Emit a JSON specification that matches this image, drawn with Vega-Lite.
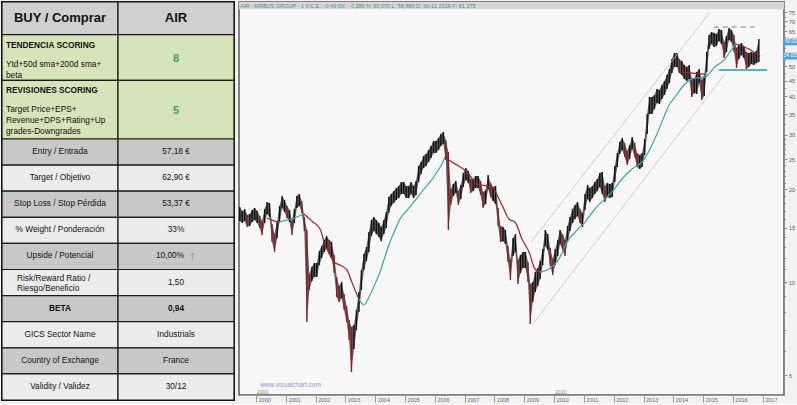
{
  "$schema": "https://vega.github.io/schema/vega-lite/v6.json",
  "background": "#f2f2f2",
  "padding": 0,
  "spacing": 2,
  "config": {"font": "Liberation Sans", "view": {"stroke": null}},
  "resolve": {"scale": {"x": "independent", "y": "independent", "color": "independent"}},
  "datasets": {
    "tbl": [
      {"r0":0,"r1":5,"col":"k","sec":"head","kind":"h","txt":"BUY / Comprar"},
      {"r0":0,"r1":5,"col":"v","sec":"head","kind":"h","txt":"AIR"},
      {"r0":5,"r1":12,"col":"k","sec":"score","kind":"t","txt":"TENDENCIA SCORING","sub":"Ytd+50d sma+200d sma+\nbeta"},
      {"r0":5,"r1":12,"col":"v","sec":"score","kind":"s1","txt":"8"},
      {"r0":12,"r1":21,"col":"k","sec":"score","kind":"t","txt":"REVISIONES SCORING","sub":"Target Price+EPS+\nRevenue+DPS+Rating+Up\ngrades-Downgrades"},
      {"r0":12,"r1":21,"col":"v","sec":"score","kind":"s2","txt":"5"},
      {"r0":21,"r1":25,"col":"k","sec":"det","kind":"n","txt":"Entry / Entrada"},
      {"r0":21,"r1":25,"col":"v","sec":"det","kind":"n","txt":"57,18 €"},
      {"r0":25,"r1":29,"col":"k","sec":"det","kind":"n","txt":"Target / Objetivo"},
      {"r0":25,"r1":29,"col":"v","sec":"det","kind":"n","txt":"62,90 €"},
      {"r0":29,"r1":33,"col":"k","sec":"det","kind":"n","txt":"Stop Loss / Stop Pérdida"},
      {"r0":29,"r1":33,"col":"v","sec":"det","kind":"n","txt":"53,37 €"},
      {"r0":33,"r1":37,"col":"k","sec":"det","kind":"n","txt":"% Weight / Ponderación"},
      {"r0":33,"r1":37,"col":"v","sec":"det","kind":"n","txt":"33%"},
      {"r0":37,"r1":41,"col":"k","sec":"det","kind":"n","txt":"Upside / Potencial"},
      {"r0":37,"r1":41,"col":"v","sec":"det","kind":"u","txt":"10,00%"},
      {"r0":41,"r1":45,"col":"k","sec":"det","kind":"r","txt":"Risk/Reward  Ratio /\nRiesgo/Beneficio"},
      {"r0":41,"r1":45,"col":"v","sec":"det","kind":"n","txt":"1,50"},
      {"r0":45,"r1":49,"col":"k","sec":"det","kind":"b","txt":"BETA"},
      {"r0":45,"r1":49,"col":"v","sec":"det","kind":"b","txt":"0,94"},
      {"r0":49,"r1":53,"col":"k","sec":"det","kind":"n","txt":"GICS Sector Name"},
      {"r0":49,"r1":53,"col":"v","sec":"det","kind":"n","txt":"Industrials"},
      {"r0":53,"r1":57,"col":"k","sec":"det","kind":"n","txt":"Country of Exchange"},
      {"r0":53,"r1":57,"col":"v","sec":"det","kind":"n","txt":"France"},
      {"r0":57,"r1":61,"col":"k","sec":"det","kind":"n","txt":"Validity / Validez"},
      {"r0":57,"r1":61,"col":"v","sec":"det","kind":"n","txt":"30/12"}
    ],
    "px": [
      {"d":"1999-06-15","h":17.51,"l":15.77},{"d":"1999-07-15","h":17.00,"l":15.54},{"d":"1999-08-15","h":17.25,"l":15.77},{"d":"1999-09-15","h":16.50,"l":15.09},{"d":"1999-10-15","h":16.62,"l":15.20},{"d":"1999-11-15","h":17.12,"l":15.66},{"d":"1999-12-15","h":17.38,"l":15.89},
      {"d":"2000-01-15","h":17.00,"l":15.54},{"d":"2000-02-15","h":16.37,"l":14.97},{"d":"2000-03-15","h":15.77,"l":14.21},{"d":"2000-04-15","h":17.25,"l":15.54},{"d":"2000-05-15","h":18.18,"l":16.62},{"d":"2000-06-15","h":18.04,"l":16.25},{"d":"2000-07-15","h":15.43,"l":13.49},{"d":"2000-08-15","h":14.31,"l":12.52},{"d":"2000-09-15","h":15.66,"l":13.89},{"d":"2000-10-15","h":17.65,"l":15.66},{"d":"2000-11-15","h":19.01,"l":17.38},{"d":"2000-12-15","h":18.45,"l":16.87},
      {"d":"2001-01-15","h":17.65,"l":16.13},{"d":"2001-02-15","h":17.12,"l":15.66},{"d":"2001-03-15","h":15.77,"l":14.21},{"d":"2001-04-15","h":17.25,"l":15.54},{"d":"2001-05-15","h":19.01,"l":17.38},{"d":"2001-06-15","h":19.30,"l":17.65},{"d":"2001-07-15","h":18.31,"l":16.74},{"d":"2001-08-15","h":16.25,"l":14.64},{"d":"2001-09-15","h":14.75,"l":7.42},{"d":"2001-10-15","h":10.62,"l":9.43},{"d":"2001-11-15","h":11.19,"l":10.08},{"d":"2001-12-15","h":11.53,"l":10.39},
      {"d":"2002-01-15","h":11.53,"l":10.39},{"d":"2002-02-15","h":12.61,"l":11.36},{"d":"2002-03-15","h":13.09,"l":11.97},{"d":"2002-04-15","h":13.69,"l":12.52},{"d":"2002-05-15","h":14.10,"l":12.90},{"d":"2002-06-15","h":13.69,"l":12.33},{"d":"2002-07-15","h":13.49,"l":11.97},{"d":"2002-08-15","h":12.24,"l":10.70},{"d":"2002-09-15","h":10.39,"l":8.95},{"d":"2002-10-15","h":9.72,"l":8.62},{"d":"2002-11-15","h":10.01,"l":8.88},{"d":"2002-12-15","h":9.15,"l":8.12},
      {"d":"2003-01-15","h":8.37,"l":7.42},{"d":"2003-02-15","h":7.54,"l":6.49},{"d":"2003-03-15","h":7.15,"l":5.11},{"d":"2003-04-15","h":7.26,"l":6.07},{"d":"2003-05-15","h":8.12,"l":6.99},{"d":"2003-06-15","h":9.29,"l":8.00},{"d":"2003-07-15","h":10.94,"l":9.43},{"d":"2003-08-15","h":12.33,"l":10.94},{"d":"2003-09-15","h":13.00,"l":11.70},{"d":"2003-10-15","h":14.53,"l":12.52},{"d":"2003-11-15","h":15.89,"l":14.10},{"d":"2003-12-15","h":16.25,"l":14.64},
      {"d":"2004-01-15","h":15.89,"l":14.31},{"d":"2004-02-15","h":15.54,"l":14.00},{"d":"2004-03-15","h":15.09,"l":13.58},{"d":"2004-04-15","h":15.89,"l":14.31},{"d":"2004-05-15","h":16.87,"l":14.97},{"d":"2004-06-15","h":18.87,"l":16.74},{"d":"2004-07-15","h":19.30,"l":17.65},{"d":"2004-08-15","h":19.74,"l":18.04},{"d":"2004-09-15","h":20.19,"l":18.45},{"d":"2004-10-15","h":20.49,"l":18.73},{"d":"2004-11-15","h":21.11,"l":19.30},{"d":"2004-12-15","h":21.11,"l":19.30},
      {"d":"2005-01-15","h":20.49,"l":18.73},{"d":"2005-02-15","h":20.49,"l":18.73},{"d":"2005-03-15","h":21.11,"l":19.30},{"d":"2005-04-15","h":20.49,"l":18.73},{"d":"2005-05-15","h":21.27,"l":19.16},{"d":"2005-06-15","h":23.79,"l":21.11},{"d":"2005-07-15","h":24.51,"l":22.41},{"d":"2005-08-15","h":25.63,"l":23.44},{"d":"2005-09-15","h":26.02,"l":23.79},{"d":"2005-10-15","h":26.80,"l":24.51},{"d":"2005-11-15","h":27.61,"l":25.25},{"d":"2005-12-15","h":28.66,"l":26.21},
      {"d":"2006-01-15","h":28.66,"l":26.21},{"d":"2006-02-15","h":29.32,"l":26.80},{"d":"2006-03-15","h":30.21,"l":27.61},{"d":"2006-04-15","h":30.66,"l":28.03},{"d":"2006-05-15","h":28.88,"l":24.88},{"d":"2006-06-15","h":26.41,"l":14.75},{"d":"2006-07-15","h":20.03,"l":17.78},{"d":"2006-08-15","h":20.80,"l":19.01},{"d":"2006-09-15","h":21.27,"l":19.44},{"d":"2006-10-15","h":19.74,"l":17.78},{"d":"2006-11-15","h":20.64,"l":18.59},{"d":"2006-12-15","h":22.58,"l":20.34},
      {"d":"2007-01-15","h":23.44,"l":21.43},{"d":"2007-02-15","h":22.91,"l":20.95},{"d":"2007-03-15","h":21.59,"l":19.44},{"d":"2007-04-15","h":21.59,"l":19.74},{"d":"2007-05-15","h":22.08,"l":20.19},{"d":"2007-06-15","h":22.08,"l":20.19},{"d":"2007-07-15","h":21.27,"l":19.16},{"d":"2007-08-15","h":19.59,"l":17.38},{"d":"2007-09-15","h":19.88,"l":17.91},{"d":"2007-10-15","h":22.25,"l":20.03},{"d":"2007-11-15","h":20.95,"l":18.87},{"d":"2007-12-15","h":20.34,"l":18.31},
      {"d":"2008-01-15","h":20.49,"l":17.91},{"d":"2008-02-15","h":17.38,"l":15.20},{"d":"2008-03-15","h":15.20,"l":13.49},{"d":"2008-04-15","h":15.09,"l":13.58},{"d":"2008-05-15","h":14.75,"l":13.29},{"d":"2008-06-15","h":13.09,"l":11.62},{"d":"2008-07-15","h":11.79,"l":10.15},{"d":"2008-08-15","h":13.89,"l":12.15},{"d":"2008-09-15","h":14.31,"l":12.52},{"d":"2008-10-15","h":11.79,"l":9.86},{"d":"2008-11-15","h":12.24,"l":10.70},{"d":"2008-12-15","h":12.52,"l":11.11},
      {"d":"2009-01-15","h":12.52,"l":11.11},{"d":"2009-02-15","h":11.62,"l":10.01},{"d":"2009-03-15","h":9.86,"l":7.31},{"d":"2009-04-15","h":10.01,"l":8.62},{"d":"2009-05-15","h":10.78,"l":9.29},{"d":"2009-06-15","h":11.11,"l":9.72},{"d":"2009-07-15","h":11.70,"l":10.23},{"d":"2009-08-15","h":12.80,"l":11.36},{"d":"2009-09-15","h":14.75,"l":13.09},{"d":"2009-10-15","h":14.31,"l":12.71},{"d":"2009-11-15","h":12.90,"l":11.28},{"d":"2009-12-15","h":11.88,"l":10.54},
      {"d":"2010-01-15","h":12.80,"l":11.36},{"d":"2010-02-15","h":13.69,"l":12.15},{"d":"2010-03-15","h":14.75,"l":13.29},{"d":"2010-04-15","h":14.31,"l":12.71},{"d":"2010-05-15","h":13.69,"l":12.15},{"d":"2010-06-15","h":15.20,"l":13.49},{"d":"2010-07-15","h":16.25,"l":14.64},{"d":"2010-08-15","h":17.25,"l":15.54},{"d":"2010-09-15","h":17.78,"l":16.01},{"d":"2010-10-15","h":18.18,"l":16.37},{"d":"2010-11-15","h":17.25,"l":15.54},{"d":"2010-12-15","h":16.74,"l":15.09},
      {"d":"2011-01-15","h":19.30,"l":17.12},{"d":"2011-02-15","h":20.64,"l":18.59},{"d":"2011-03-15","h":20.19,"l":18.18},{"d":"2011-04-15","h":20.49,"l":18.73},{"d":"2011-05-15","h":21.11,"l":19.30},{"d":"2011-06-15","h":21.59,"l":19.74},{"d":"2011-07-15","h":22.58,"l":20.34},{"d":"2011-08-15","h":22.75,"l":19.30},{"d":"2011-09-15","h":20.49,"l":18.18},{"d":"2011-10-15","h":20.95,"l":18.87},{"d":"2011-11-15","h":20.80,"l":18.73},{"d":"2011-12-15","h":20.95,"l":18.87},
      {"d":"2012-01-15","h":23.79,"l":21.11},{"d":"2012-02-15","h":26.21,"l":23.61},{"d":"2012-03-15","h":28.45,"l":26.02},{"d":"2012-04-15","h":29.32,"l":26.80},{"d":"2012-05-15","h":28.24,"l":25.44},{"d":"2012-06-15","h":26.60,"l":23.97},{"d":"2012-07-15","h":27.82,"l":25.06},{"d":"2012-08-15","h":29.54,"l":27.00},{"d":"2012-09-15","h":28.24,"l":25.44},{"d":"2012-10-15","h":26.21,"l":23.61},{"d":"2012-11-15","h":25.83,"l":23.26},{"d":"2012-12-15","h":26.21,"l":23.61},
      {"d":"2013-01-15","h":29.10,"l":25.83},{"d":"2013-02-15","h":35.06,"l":30.21},{"d":"2013-03-15","h":39.81,"l":35.06},{"d":"2013-04-15","h":39.81,"l":35.06},{"d":"2013-05-15","h":40.41,"l":36.39},{"d":"2013-06-15","h":42.25,"l":38.06},{"d":"2013-07-15","h":41.93,"l":37.78},{"d":"2013-08-15","h":43.54,"l":39.21},{"d":"2013-09-15","h":44.85,"l":40.41},{"d":"2013-10-15","h":46.91,"l":42.25},{"d":"2013-11-15","h":49.05,"l":44.19},{"d":"2013-12-15","h":52.85,"l":47.61},
      {"d":"2014-01-15","h":55.27,"l":49.80},{"d":"2014-02-15","h":55.27,"l":49.80},{"d":"2014-03-15","h":52.85,"l":47.61},{"d":"2014-04-15","h":52.06,"l":46.91},{"d":"2014-05-15","h":50.55,"l":45.52},{"d":"2014-06-15","h":49.80,"l":44.85},{"d":"2014-07-15","h":50.55,"l":45.52},{"d":"2014-08-15","h":45.87,"l":39.81},{"d":"2014-09-15","h":45.52,"l":41.01},{"d":"2014-10-15","h":47.97,"l":40.71},{"d":"2014-11-15","h":49.05,"l":44.19},{"d":"2014-12-15","h":45.18,"l":38.92},
      {"d":"2015-01-15","h":46.56,"l":40.11},{"d":"2015-02-15","h":55.69,"l":47.97},{"d":"2015-03-15","h":63.22,"l":56.94},{"d":"2015-04-15","h":64.65,"l":59.11},{"d":"2015-05-15","h":64.17,"l":57.80},{"d":"2015-06-15","h":63.69,"l":58.24},{"d":"2015-07-15","h":66.10,"l":60.44},{"d":"2015-08-15","h":65.60,"l":59.11},{"d":"2015-09-15","h":60.00,"l":53.25},{"d":"2015-10-15","h":62.75,"l":55.69},{"d":"2015-11-15","h":66.60,"l":60.89},{"d":"2015-12-15","h":65.60,"l":60.00},
      {"d":"2016-01-15","h":63.22,"l":55.69},{"d":"2016-02-15","h":57.37,"l":49.43},{"d":"2016-03-15","h":58.67,"l":52.85},{"d":"2016-04-15","h":59.55,"l":54.46},{"d":"2016-05-15","h":58.24,"l":53.25},{"d":"2016-06-15","h":55.69,"l":49.05},{"d":"2016-07-15","h":55.27,"l":49.80},{"d":"2016-08-15","h":55.69,"l":50.93},{"d":"2016-09-15","h":55.27,"l":50.55},{"d":"2016-10-15","h":56.09,"l":51.30},{"d":"2016-11-15","h":61.35,"l":51.69}
    ],
    "ma": [
      {"d":"2000-05-13","v":16.13,"seg":"s1","tr":"bear"},{"d":"2000-07-14","v":15.89,"seg":"s1","tr":"bear"},{"d":"2000-10-08","v":15.66,"seg":"s1","tr":"bear"},
      {"d":"2000-10-08","v":15.66,"seg":"s2","tr":"bull"},{"d":"2001-01-15","v":15.89,"seg":"s2","tr":"bull"},{"d":"2001-04-10","v":16.13,"seg":"s2","tr":"bull"},{"d":"2001-07-15","v":16.50,"seg":"s2","tr":"bull"},{"d":"2001-08-10","v":16.62,"seg":"s2","tr":"bull"},
      {"d":"2001-08-10","v":16.62,"seg":"s3","tr":"bear"},{"d":"2001-11-15","v":15.77,"seg":"s3","tr":"bear"},{"d":"2002-02-24","v":14.86,"seg":"s3","tr":"bear"},{"d":"2002-04-25","v":13.19,"seg":"s3","tr":"bear"},{"d":"2002-06-25","v":12.24,"seg":"s3","tr":"bear"},{"d":"2002-08-13","v":11.62,"seg":"s3","tr":"bear"},{"d":"2002-10-25","v":11.36,"seg":"s3","tr":"bear"},{"d":"2003-01-20","v":10.94,"seg":"s3","tr":"bear"},{"d":"2003-03-20","v":10.01,"seg":"s3","tr":"bear"},{"d":"2003-05-08","v":9.29,"seg":"s3","tr":"bear"},{"d":"2003-06-15","v":8.82,"seg":"s3","tr":"bear"},
      {"d":"2003-06-15","v":8.82,"seg":"s4","tr":"bull"},{"d":"2003-08-15","v":8.43,"seg":"s4","tr":"bull"},{"d":"2003-10-28","v":9.08,"seg":"s4","tr":"bull"},{"d":"2003-12-28","v":9.86,"seg":"s4","tr":"bull"},{"d":"2004-02-28","v":10.78,"seg":"s4","tr":"bull"},{"d":"2004-04-28","v":12.06,"seg":"s4","tr":"bull"},{"d":"2004-06-29","v":13.49,"seg":"s4","tr":"bull"},{"d":"2004-08-30","v":14.75,"seg":"s4","tr":"bull"},{"d":"2004-10-30","v":16.01,"seg":"s4","tr":"bull"},{"d":"2005-01-25","v":17.12,"seg":"s4","tr":"bull"},{"d":"2005-04-18","v":18.18,"seg":"s4","tr":"bull"},{"d":"2005-08-20","v":20.03,"seg":"s4","tr":"bull"},{"d":"2005-11-02","v":21.11,"seg":"s4","tr":"bull"},{"d":"2006-01-28","v":22.75,"seg":"s4","tr":"bull"},{"d":"2006-03-28","v":24.15,"seg":"s4","tr":"bull"},{"d":"2006-05-04","v":25.44,"seg":"s4","tr":"bull"},
      {"d":"2006-05-04","v":25.44,"seg":"s5","tr":"bear"},{"d":"2006-07-28","v":24.51,"seg":"s5","tr":"bear"},{"d":"2006-09-28","v":23.97,"seg":"s5","tr":"bear"},{"d":"2007-01-30","v":22.75,"seg":"s5","tr":"bear"},{"d":"2007-06-01","v":20.80,"seg":"s5","tr":"bear"},{"d":"2007-08-01","v":20.64,"seg":"s5","tr":"bear"},{"d":"2007-12-01","v":20.34,"seg":"s5","tr":"bear"},{"d":"2008-02-26","v":18.59,"seg":"s5","tr":"bear"},{"d":"2008-04-26","v":17.25,"seg":"s5","tr":"bear"},{"d":"2008-06-27","v":16.01,"seg":"s5","tr":"bear"},{"d":"2008-09-09","v":15.66,"seg":"s5","tr":"bear"},{"d":"2008-12-03","v":13.79,"seg":"s5","tr":"bear"},{"d":"2009-02-28","v":12.52,"seg":"s5","tr":"bear"},{"d":"2009-05-11","v":11.03,"seg":"s5","tr":"bear"},{"d":"2009-07-12","v":10.78,"seg":"s5","tr":"bear"},
      {"d":"2009-07-12","v":10.78,"seg":"s6","tr":"bull"},{"d":"2009-10-30","v":11.03,"seg":"s6","tr":"bull"},{"d":"2010-03-02","v":11.88,"seg":"s6","tr":"bull"},{"d":"2010-06-07","v":13.49,"seg":"s6","tr":"bull"},{"d":"2010-09-15","v":14.53,"seg":"s6","tr":"bull"},{"d":"2011-01-15","v":15.66,"seg":"s6","tr":"bull"},{"d":"2011-05-15","v":17.25,"seg":"s6","tr":"bull"},{"d":"2011-09-15","v":18.59,"seg":"s6","tr":"bull"},{"d":"2011-12-11","v":19.59,"seg":"s6","tr":"bull"},{"d":"2012-04-12","v":21.59,"seg":"s6","tr":"bull"},{"d":"2012-08-13","v":23.26,"seg":"s6","tr":"bull"},{"d":"2012-12-13","v":24.51,"seg":"s6","tr":"bull"},{"d":"2013-04-15","v":27.82,"seg":"s6","tr":"bull"},{"d":"2013-06-15","v":30.21,"seg":"s6","tr":"bull"},{"d":"2013-08-15","v":33.04,"seg":"s6","tr":"bull"},{"d":"2013-11-10","v":37.50,"seg":"s6","tr":"bull"},{"d":"2014-01-22","v":39.81,"seg":"s6","tr":"bull"},{"d":"2014-05-24","v":43.86,"seg":"s6","tr":"bull"},{"d":"2014-09-24","v":45.87,"seg":"s6","tr":"bull"},{"d":"2015-01-25","v":46.21,"seg":"s6","tr":"bull"},{"d":"2015-05-25","v":49.80,"seg":"s6","tr":"bull"},{"d":"2015-09-26","v":52.85,"seg":"s6","tr":"bull"},{"d":"2015-12-21","v":56.94,"seg":"s6","tr":"bull"},{"d":"2016-02-09","v":59.11,"seg":"s6","tr":"bull"},
      {"d":"2014-04-16","v":47.97,"seg":"s7","tr":"bear"},{"d":"2014-08-17","v":47.61,"seg":"s7","tr":"bear"},{"d":"2015-01-25","v":47.26,"seg":"s7","tr":"bear"},
      {"d":"2016-02-09","v":59.11,"seg":"s8","tr":"bear"},{"d":"2016-04-21","v":58.24,"seg":"s8","tr":"bear"},{"d":"2016-07-16","v":56.94,"seg":"s8","tr":"bear"},{"d":"2016-10-01","v":55.30,"seg":"s8","tr":"bear"},{"d":"2016-11-30","v":54.04,"seg":"s8","tr":"bear"}
    ],
    "chan": [
      {"d":"2009-03-24","v":13.49,"side":"upper"},{"d":"2015-03-27","v":75.0,"side":"upper"},
      {"d":"2009-04-05","v":7.26,"side":"lower"},{"d":"2015-09-26","v":47.26,"side":"lower"}
    ],
    "lvl": [
      {"d":"2015-07-15","v":48.69,"k":"sup"},{"d":"2017-02-23","v":48.69,"k":"sup"},
      {"d":"2015-05-13","v":67.10,"k":"res"},{"d":"2016-10-22","v":67.10,"k":"res"}
    ],
    "tags": [
      {"v":60.02,"t":"60.02"},{"v":54.035,"t":"54.035"}
    ],
    "dec": [
      {"d":"2000-01-01","t":"2000"},{"d":"2010-01-01","t":"2010"}
    ]
  },
  "hconcat": [
    {
      "width": 232,
      "height": 398,
      "view": {"stroke": "#151515", "strokeWidth": 2, "fill": "#ffffff"},
      "data": {"name": "tbl"},
      "layer": [
        {
          "mark": {"type": "rect", "stroke": "#1a1a1a", "strokeWidth": 1.2},
          "encoding": {
            "x": {"field": "col", "type": "nominal", "title": null, "axis": null, "scale": {"type": "band", "domain": ["k", "v"], "paddingInner": 0, "paddingOuter": 0}},
            "y": {"field": "r0", "type": "quantitative", "title": null, "axis": null, "scale": {"domain": [0, 61], "reverse": true, "nice": false, "zero": false}},
            "y2": {"field": "r1"},
            "fill": {"condition": [{"test": "datum.sec === 'head'", "value": "#d0d0d0"}, {"test": "datum.sec === 'score'", "value": "#d7e3b8"}, {"test": "((datum.r0 - 21) / 4) % 2 === 0", "value": "#c8c8c8"}], "value": "#ececec"}
          }
        },
        {
          "transform": [{"filter": "datum.kind === 'h'"}],
          "mark": {"type": "text", "fontSize": 13, "fontWeight": "bold", "baseline": "middle", "dy": 16, "color": "#111"},
          "encoding": {
            "x": {"field": "col", "type": "nominal", "axis": null, "scale": {"type": "band", "domain": ["k", "v"], "paddingInner": 0, "paddingOuter": 0}},
            "y": {"field": "r0", "type": "quantitative"},
            "text": {"field": "txt"}
          }
        },
        {
          "transform": [{"filter": "datum.kind === 'n'"}],
          "mark": {"type": "text", "fontSize": 8.3, "baseline": "middle", "dy": 13, "color": "#111"},
          "encoding": {
            "x": {"field": "col", "type": "nominal", "axis": null, "scale": {"type": "band", "domain": ["k", "v"], "paddingInner": 0, "paddingOuter": 0}},
            "y": {"field": "r0", "type": "quantitative"},
            "text": {"field": "txt"}
          }
        },
        {
          "transform": [{"filter": "datum.kind === 'u'"}],
          "mark": {"type": "text", "fontSize": 8.3, "baseline": "middle", "dy": 13, "dx": -6, "color": "#111"},
          "encoding": {
            "x": {"field": "col", "type": "nominal", "axis": null, "scale": {"type": "band", "domain": ["k", "v"], "paddingInner": 0, "paddingOuter": 0}},
            "y": {"field": "r0", "type": "quantitative"},
            "text": {"field": "txt"}
          }
        },
        {
          "transform": [{"filter": "datum.kind === 'u'"}],
          "mark": {"type": "text", "fontSize": 12, "fontWeight": "bold", "baseline": "middle", "dy": 12.5, "dx": 16, "color": "#4f9a6a"},
          "encoding": {
            "x": {"field": "col", "type": "nominal", "axis": null, "scale": {"type": "band", "domain": ["k", "v"], "paddingInner": 0, "paddingOuter": 0}},
            "y": {"field": "r0", "type": "quantitative"},
            "text": {"value": "↑"}
          }
        },
        {
          "transform": [{"filter": "datum.kind === 'b'"}],
          "mark": {"type": "text", "fontSize": 8.3, "fontWeight": "bold", "baseline": "middle", "dy": 13, "color": "#111"},
          "encoding": {
            "x": {"field": "col", "type": "nominal", "axis": null, "scale": {"type": "band", "domain": ["k", "v"], "paddingInner": 0, "paddingOuter": 0}},
            "y": {"field": "r0", "type": "quantitative"},
            "text": {"field": "txt"}
          }
        },
        {
          "transform": [{"filter": "datum.kind === 'r'"}],
          "mark": {"type": "text", "fontSize": 8.3, "align": "left", "baseline": "top", "dy": 4.5, "dx": 15, "lineBreak": "\n", "lineHeight": 9.5, "color": "#111"},
          "encoding": {
            "x": {"field": "col", "type": "nominal", "bandPosition": 0, "axis": null, "scale": {"type": "band", "domain": ["k", "v"], "paddingInner": 0, "paddingOuter": 0}},
            "y": {"field": "r0", "type": "quantitative"},
            "text": {"field": "txt"}
          }
        },
        {
          "transform": [{"filter": "datum.kind === 't'"}],
          "mark": {"type": "text", "fontSize": 8.3, "fontWeight": "bold", "align": "left", "baseline": "top", "dy": 6, "dx": 4, "color": "#111"},
          "encoding": {
            "x": {"field": "col", "type": "nominal", "bandPosition": 0, "axis": null, "scale": {"type": "band", "domain": ["k", "v"], "paddingInner": 0, "paddingOuter": 0}},
            "y": {"field": "r0", "type": "quantitative"},
            "text": {"field": "txt"}
          }
        },
        {
          "transform": [{"filter": "datum.kind === 't'"}],
          "mark": {"type": "text", "fontSize": 8.3, "align": "left", "baseline": "top", "dy": 25, "dx": 4, "lineBreak": "\n", "lineHeight": 11, "color": "#111"},
          "encoding": {
            "x": {"field": "col", "type": "nominal", "bandPosition": 0, "axis": null, "scale": {"type": "band", "domain": ["k", "v"], "paddingInner": 0, "paddingOuter": 0}},
            "y": {"field": "r0", "type": "quantitative"},
            "text": {"field": "sub"}
          }
        },
        {
          "transform": [{"filter": "datum.kind === 's1'"}],
          "mark": {"type": "text", "fontSize": 11, "fontWeight": "bold", "baseline": "middle", "dy": 24, "color": "#3f9a5e"},
          "encoding": {
            "x": {"field": "col", "type": "nominal", "axis": null, "scale": {"type": "band", "domain": ["k", "v"], "paddingInner": 0, "paddingOuter": 0}},
            "y": {"field": "r0", "type": "quantitative"},
            "text": {"field": "txt"}
          }
        },
        {
          "transform": [{"filter": "datum.kind === 's2'"}],
          "mark": {"type": "text", "fontSize": 11, "fontWeight": "bold", "baseline": "middle", "dy": 31, "color": "#3f9a5e"},
          "encoding": {
            "x": {"field": "col", "type": "nominal", "axis": null, "scale": {"type": "band", "domain": ["k", "v"], "paddingInner": 0, "paddingOuter": 0}},
            "y": {"field": "r0", "type": "quantitative"},
            "text": {"field": "txt"}
          }
        }
      ]
    },
    {
      "width": 545,
      "height": 393,
      "view": {"fill": "#f7f7f7", "stroke": "#5a5a5a", "strokeWidth": 1.5},
      "layer": [
        {
          "data": {"values": [{"hdr": "AIR - AIRBUS GROUP - 1 V.C.E.: -0,49 Dif.: -0,280 H: 60,070 L: 58,880 D: 30-11-2016 F: 61,175"}]},
          "mark": {"type": "rect", "color": "#d6d6d6"},
          "encoding": {
            "x": {"datum": {"year": 1999, "month": 6, "date": 6}, "type": "temporal",
              "scale": {"domain": [{"year": 1999, "month": 6, "date": 6}, {"year": 2017, "month": 9, "date": 19}], "nice": false},
              "axis": {"tickCount": {"interval": "year", "step": 1}, "format": "%Y", "labelAlign": "left", "labelBaseline": "top", "labelOffset": 2, "labelPadding": -5, "tickSize": 7, "labelFontSize": 5.5, "labelColor": "#666", "tickColor": "#999", "domainColor": "#999", "grid": false, "labelOverlap": false, "labelFlush": false, "title": null}},
            "x2": {"datum": {"year": 2017, "month": 9, "date": 19}},
            "y": {"datum": 80.9, "type": "quantitative",
              "scale": {"type": "log", "domain": [4.307, 80.9], "nice": false},
              "axis": {"orient": "right", "title": null, "values": [5,6,7,8,9,10,11,12,13,14,15,16,17,18,19,20,21,22,23,24,25,26,27,28,29,30,32.5,35,37.5,40,42.5,45,47.5,50,52.5,55,57.5,60,62.5,65,67.5,70,72.5,75], "labelExpr": "(datum.value % 5 === 0 && datum.value !== 55 && datum.value !== 60) ? '' + datum.value : ''", "tickSize": {"condition": {"test": "datum.value % 5 === 0", "value": 3}, "value": 1.5}, "labelFontSize": 5.5, "labelColor": "#555", "tickColor": "#888", "domainColor": "#888", "labelPadding": 1.5, "grid": false, "labelOverlap": false, "labelBound": false}},
            "y2": {"datum": 76.6}
          }
        },
        {
          "data": {"values": [{"hdr": "AIR - AIRBUS GROUP - 1 V.C.E.: -0,49 Dif.: -0,280 H: 60,070 L: 58,880 D: 30-11-2016 F: 61,175"}]},
          "mark": {"type": "text", "align": "left", "baseline": "middle", "dx": 1, "fontSize": 5.5, "color": "#3f8e9a"},
          "encoding": {
            "x": {"datum": {"year": 1999, "month": 6, "date": 6}, "type": "temporal"},
            "y": {"datum": 78.7, "type": "quantitative"},
            "text": {"field": "hdr"}
          }
        },
        {
          "data": {"name": "px"},
          "mark": {"type": "area", "color": "#2a2a2a", "opacity": 0.75},
          "encoding": {
            "x": {"field": "d", "type": "temporal", "title": null},
            "y": {"field": "h", "type": "quantitative", "title": null},
            "y2": {"field": "l"}
          }
        },
        {
          "data": {"name": "px"},
          "transform": [{"window": [{"op": "lag", "field": "h", "as": "ph"}, {"op": "lag", "field": "l", "as": "pl"}], "sort": [{"field": "d", "order": "ascending"}]}],
          "mark": {"type": "rule", "strokeWidth": 1.4},
          "encoding": {
            "x": {"field": "d", "type": "temporal", "title": null},
            "y": {"field": "h", "type": "quantitative", "title": null},
            "y2": {"field": "l"},
            "color": {"condition": {"test": "datum.ph != null && (datum.h + datum.l) < (datum.ph + datum.pl) * 0.97", "value": "#8e1b1b"}, "value": "#111111"}
          }
        },
        {
          "data": {"name": "chan"},
          "mark": {"type": "line", "stroke": "#c4c4c4", "strokeWidth": 0.8},
          "encoding": {
            "x": {"field": "d", "type": "temporal", "title": null},
            "y": {"field": "v", "type": "quantitative", "title": null},
            "detail": {"field": "side"}
          }
        },
        {
          "data": {"name": "ma"},
          "mark": {"type": "line", "strokeWidth": 1.2, "interpolate": "monotone"},
          "encoding": {
            "x": {"field": "d", "type": "temporal", "title": null},
            "y": {"field": "v", "type": "quantitative", "title": null},
            "detail": {"field": "seg"},
            "color": {"field": "tr", "type": "nominal", "scale": {"domain": ["bull", "bear"], "range": ["#3aa3a3", "#a32222"]}, "legend": null}
          }
        },
        {
          "data": {"name": "lvl"},
          "transform": [{"filter": "datum.k === 'sup'"}],
          "mark": {"type": "line", "stroke": "#2b9a9a", "strokeWidth": 1.5},
          "encoding": {
            "x": {"field": "d", "type": "temporal", "title": null},
            "y": {"field": "v", "type": "quantitative", "title": null}
          }
        },
        {
          "data": {"name": "lvl"},
          "transform": [{"filter": "datum.k === 'res'"}],
          "mark": {"type": "line", "stroke": "#c46565", "strokeWidth": 1, "strokeDash": [5, 4]},
          "encoding": {
            "x": {"field": "d", "type": "temporal", "title": null},
            "y": {"field": "v", "type": "quantitative", "title": null}
          }
        },
        {
          "data": {"name": "dec"},
          "mark": {"type": "text", "align": "left", "baseline": "middle", "dx": 1, "fontSize": 5, "color": "#888"},
          "encoding": {
            "x": {"field": "d", "type": "temporal", "title": null},
            "y": {"datum": 4.40},
            "text": {"field": "t"}
          }
        },
        {
          "data": {"values": [{"site": "www.visualchart.com"}]},
          "mark": {"type": "text", "align": "left", "baseline": "middle", "fontSize": 6.5, "color": "#8c9bd0"},
          "encoding": {
            "x": {"datum": {"year": 2000, "month": 2, "date": 20}},
            "y": {"datum": 4.64},
            "text": {"field": "site"}
          }
        },
        {
          "data": {"name": "tags"},
          "mark": {"type": "point", "shape": "M-1,-0.42H1V0.42H-1Z", "size": 256, "filled": true, "opacity": 1, "color": "#4b9fdf"},
          "encoding": {
            "x": {"datum": {"year": 2017, "month": 12, "date": 15}},
            "y": {"field": "v", "type": "quantitative", "title": null}
          }
        },
        {
          "data": {"name": "tags"},
          "mark": {"type": "text", "align": "center", "baseline": "middle", "fontSize": 4.6, "color": "#ffffff"},
          "encoding": {
            "x": {"datum": {"year": 2017, "month": 12, "date": 15}},
            "y": {"field": "v", "type": "quantitative", "title": null},
            "text": {"field": "t"}
          }
        }
      ]
    }
  ]
}
